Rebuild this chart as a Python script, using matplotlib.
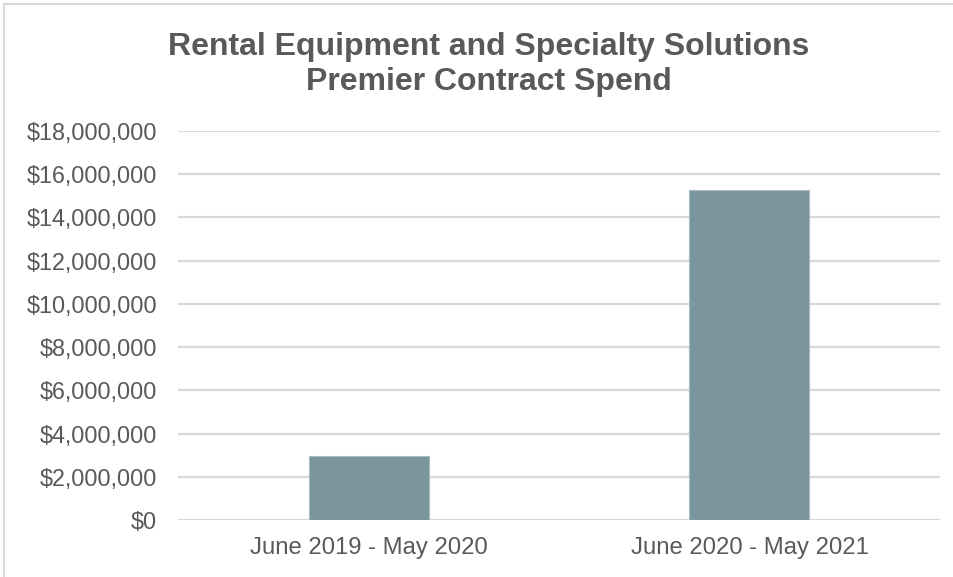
import matplotlib
matplotlib.use("Agg")
import matplotlib.pyplot as plt
from matplotlib.lines import Line2D
from matplotlib.ticker import FuncFormatter

# Daten
periods = ["June 2019 - May 2020", "June 2020 - May 2021"]
spend = [2960000, 15280000]
title = "Rental Equipment and Specialty Solutions\nPremier Contract Spend"

txt = "#595959"
plt.rcParams["font.family"] = ["Liberation Sans", "DejaVu Sans"]

fig = plt.figure(figsize=(9.54, 5.77), dpi=100)
ax = fig.add_axes([0.1866, 0.0988, 0.7987, 0.6742])

x = range(len(periods))
ax.bar(x, spend, width=0.315, color="#7a959c", edgecolor="#a8bbc0", linewidth=0.8, zorder=3)

ax.set_xlim(-0.5, 1.5)
ax.set_ylim(0, 18000000)
ax.set_yticks(range(0, 18000001, 2000000))
ax.yaxis.set_major_formatter(FuncFormatter(lambda v, p: "${:,.0f}".format(v)))
ax.set_xticks(list(x))
ax.set_xticklabels(periods)

ax.grid(axis="y", color="#d9d9d9", linewidth=1.6, zorder=0)
for s in ax.spines.values():
    s.set_visible(False)
ax.tick_params(axis="y", length=0, pad=15, labelsize=16.8, labelcolor=txt)
ax.tick_params(axis="x", length=0, pad=12, labelsize=17.2, labelcolor=txt)

fig.text(0.512, 0.888, title, ha="center", va="center", fontsize=23,
         fontweight="bold", color=txt, linespacing=1.25)

# Rahmen oben und links
fig.add_artist(Line2D([4/954, 1], [1 - 4/577, 1 - 4/577], transform=fig.transFigure,
                      color="#d9d9d9", linewidth=1.5))
fig.add_artist(Line2D([4/954, 4/954], [0, 1 - 4/577], transform=fig.transFigure,
                      color="#d9d9d9", linewidth=1.5))

fig.savefig("out.png", dpi=100)
